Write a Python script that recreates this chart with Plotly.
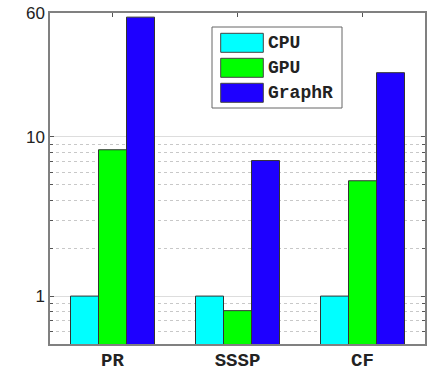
import plotly.graph_objects as go

# ---- data ----
categories = ["PR", "SSSP", "CF"]
series_names = ["CPU", "GPU", "GraphR"]
cpu_values = [1.0, 1.0, 1.0]
gpu_values = [8.3, 0.81, 5.3]
graphr_values = [56.5, 7.1, 25.3]
y_tick_vals = [1, 10, 60]
y_tick_text = ["1", "10", "60"]
y_minor_vals = [0.6, 0.7, 0.8, 0.9, 2, 3, 4, 5, 6, 7, 8, 9]

colors = ["#00FFFF", "#00FF00", "#1E00FF"]
series_values = [cpu_values, gpu_values, graphr_values]

W, H = 431, 373
L, R, T, B = 50, 6, 13, 29
PW, PH = W - L - R, H - T - B


def px(x):
    return (x - L) / PW


def py(y):
    return (H - B - y) / PH


fig = go.Figure()
for name, vals, col in zip(series_names, series_values, colors):
    fig.add_trace(go.Bar(
        x=categories, y=vals, name=name,
        marker=dict(color=col, line=dict(color="#333333", width=1)),
        showlegend=False,
    ))

# manual legend (large swatches as in reference)
shapes = [dict(type="rect", xref="paper", yref="paper",
               x0=px(212), x1=px(342), y0=py(108), y1=py(27),
               line=dict(color="#666666", width=1), fillcolor="white", layer="above")]
annotations = []
row_tops = [33.3, 58.3, 83.3]
for name, col, top in zip(series_names, colors, row_tops):
    shapes.append(dict(type="rect", xref="paper", yref="paper",
                       x0=px(220.7), x1=px(263.3), y0=py(top + 19), y1=py(top),
                       line=dict(color="#444444", width=1), fillcolor=col, layer="above"))
    annotations.append(dict(xref="paper", yref="paper", x=px(266), y=py(top + 9.5),
                            text=name, showarrow=False, xanchor="left", yanchor="middle",
                            font=dict(family="Liberation Mono", size=18, color="#222222",
                                      weight="bold")))

fig.update_layout(
    width=W, height=H,
    margin=dict(l=L, r=R, t=T, b=B),
    paper_bgcolor="white", plot_bgcolor="white",
    barmode="group", bargap=0.328, bargroupgap=0,
    shapes=shapes, annotations=annotations,
    showlegend=False,
)
fig.update_xaxes(
    range=[-0.5, 2.5], automargin=False,
    showline=True, linecolor="#808080", linewidth=1.5, mirror="ticks",
    ticks="inside", ticklen=4, tickcolor="#555555", layer="below traces",
    tickfont=dict(family="Liberation Mono", size=19, color="#222222", weight="bold"),
    ticklabelstandoff=-3,
    showgrid=False,
)
fig.update_yaxes(
    type="log", range=[-0.301, 1.778], automargin=False,
    tickmode="array", tickvals=y_tick_vals, ticktext=y_tick_text,
    showline=True, linecolor="#808080", linewidth=1.5, mirror="ticks",
    ticks="inside", ticklen=4, tickcolor="#555555",
    tickfont=dict(family="Liberation Sans", size=17, color="#222222"),
    showgrid=True, gridcolor="#DDDDDD", gridwidth=1,
    zeroline=False,
    minor=dict(tickmode="array", tickvals=y_minor_vals, ticks="inside", ticklen=3,
               tickcolor="#555555", showgrid=True, gridcolor="#C8C8C8",
               griddash="dot", gridwidth=1),
)

fig.write_html("out.html")
